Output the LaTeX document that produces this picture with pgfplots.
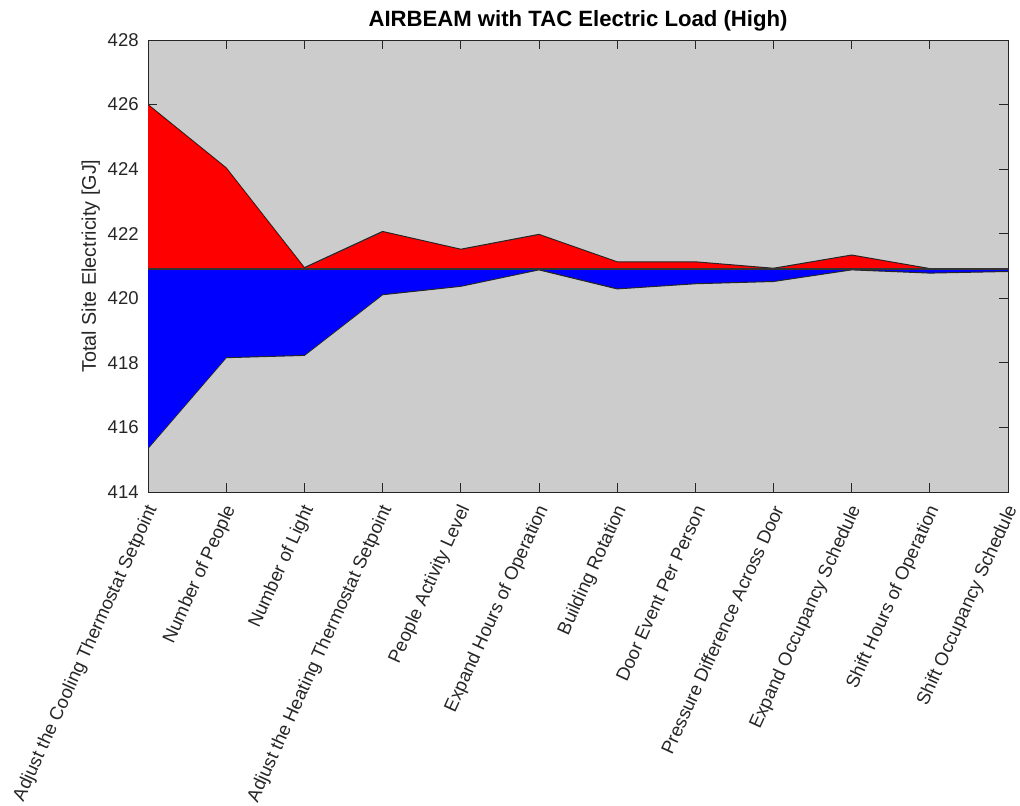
\documentclass[border=0pt]{standalone}
\usepackage{pgfplots}
\pgfplotsset{compat=1.18}
\usepackage{fontspec}
\setmainfont{Liberation Sans}
\definecolor{bg}{gray}{0.8}
\definecolor{axc}{gray}{0.15}
\begin{document}
\begin{tikzpicture}
\path[use as bounding box] (0,0) rectangle (765pt,604.5pt);
\begin{axis}[
  at={(111pt,235.5pt)}, anchor=south west,
  scale only axis, width=645pt, height=339pt,
  xmin=0, xmax=11, ymin=414, ymax=428,
  xtick={0,...,11},
  xticklabels={Adjust the Cooling Thermostat Setpoint, Number of People, Number of Light, Adjust the Heating Thermostat Setpoint, People Activity Level, Expand Hours of Operation, Building Rotation, Door Event Per Person, Pressure Difference Across Door, Expand Occupancy Schedule, Shift Hours of Operation, Shift Occupancy Schedule},
  ytick={414,416,...,428},
  tick align=inside, major tick length=6.5pt,
  axis line style={axc, line width=0.6pt},
  tick style={axc, line width=0.6pt},
  axis background/.style={fill=bg},
  every tick label/.append style={font=\fontsize{13.9}{16}\selectfont, text=axc},
  xticklabel style={xshift=4.5pt, yshift=-9pt, rotate=65.5, anchor=east, inner sep=2pt},
  yticklabel style={xshift=-3.5pt},
  ylabel={Total Site Electricity [GJ]},
  ylabel style={font=\fontsize{14.8}{17}\selectfont, text=axc, yshift=-1pt},
  title={\textbf{AIRBEAM with TAC Electric Load (High)}},
  title style={font=\fontsize{16.6}{19}\selectfont, yshift=-3pt},
  /pgf/number format/assume math mode=true,
  clip=true,
]
\addplot[draw=black!85, line width=0.75pt, fill=blue] coordinates {
 (0,415.35) (1,418.16) (2,418.23) (3,420.11) (4,420.37) (5,420.88) (6,420.29) (7,420.45) (8,420.52) (9,420.88) (10,420.78) (11,420.83) (11,420.9) (0,420.9)};
\addplot[draw=black!85, line width=0.75pt, fill=red] coordinates {
 (0,426.0) (1,424.04) (2,420.95) (3,422.07) (4,421.52) (5,421.98) (6,421.13) (7,421.13) (8,420.93) (9,421.34) (10,420.92) (11,420.9) (11,420.9) (0,420.9)};
\addplot[draw=black!80, line width=1.5pt] coordinates {(0,420.9) (11,420.9)};
\end{axis}
\end{tikzpicture}
\end{document}
